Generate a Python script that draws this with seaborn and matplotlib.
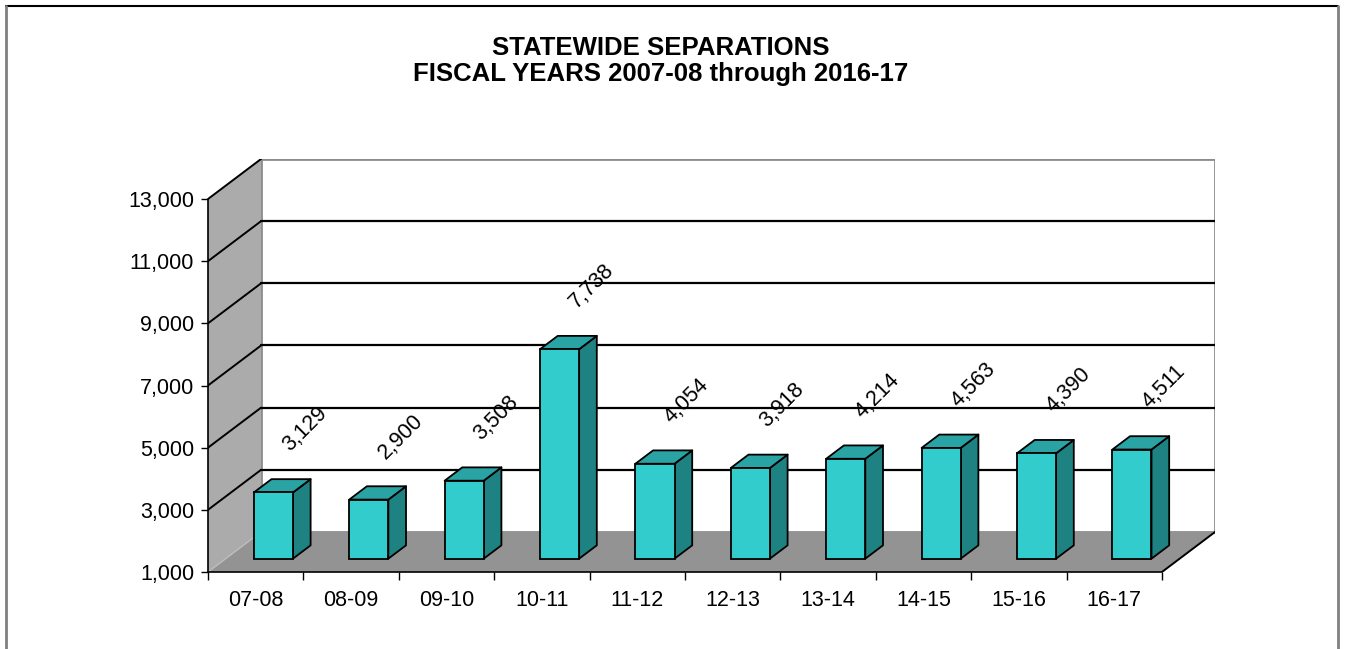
import matplotlib
matplotlib.use("Agg")
import matplotlib.pyplot as plt
from matplotlib.patches import Polygon, Rectangle
from matplotlib.lines import Line2D
import seaborn as sns
import pandas as pd

# values
years = ["07-08", "08-09", "09-10", "10-11", "11-12",
         "12-13", "13-14", "14-15", "15-16", "16-17"]
separations = [3129, 2900, 3508, 7738, 4054, 3918, 4214, 4563, 4390, 4511]
y_ticks = [1000, 3000, 5000, 7000, 9000, 11000, 13000]

df = pd.DataFrame({"Year": years, "Separations": separations})

sns.set_theme(style="white")
plt.rcParams["font.family"] = ["Liberation Sans", "DejaVu Sans"]
plt.rcParams["text.color"] = "black"
plt.rcParams["xtick.color"] = "black"
plt.rcParams["ytick.color"] = "black"

# fake 3D depth: full depth offset in data units
DX = 0.556
DY = 1287
FLOOR = y_ticks[0]
TOP = y_ticks[-1]
BAR_W = 0.41

fig = plt.figure(figsize=(13.45, 6.49), dpi=100)
ax = fig.add_axes([208 / 1345, 77 / 649, 1007 / 1345, 413 / 649])

sns.barplot(data=df, x="Year", y="Separations", color="#33CCCC", saturation=1,
            width=BAR_W, edgecolor="black", linewidth=1.3, ax=ax, zorder=3)
bars = list(ax.patches)

n = len(years)
x_left, x_right = -0.5, n - 0.5

# walls and floor
side_wall = Polygon([(x_left, FLOOR), (x_left, TOP), (x_left + DX, TOP + DY),
                     (x_left + DX, FLOOR + DY)], closed=True,
                    facecolor="#ABABAB", edgecolor="none", zorder=0)
floor = Polygon([(x_left, FLOOR), (x_right, FLOOR), (x_right + DX, FLOOR + DY),
                 (x_left + DX, FLOOR + DY)], closed=True,
                facecolor="#939393", edgecolor="none", zorder=0.2)
back_wall = Rectangle((x_left + DX, FLOOR + DY), x_right - x_left, TOP - FLOOR,
                      facecolor="white", edgecolor="#8C8C8C", linewidth=2, zorder=0)
ax.add_patch(back_wall)
ax.add_patch(side_wall)
ax.add_patch(floor)

# gridlines on back wall and side wall
for v in y_ticks[1:]:
    if v < TOP:
        ax.plot([x_left + DX, x_right + DX], [v + DY, v + DY], color="black",
                linewidth=1.6, zorder=0.5)
    ax.plot([x_left, x_left + DX], [v, v + DY], color="black",
            linewidth=1.4, zorder=0.5)
ax.plot([x_left, x_left + DX], [FLOOR, FLOOR + DY], color="#BDBDBD",
        linewidth=1, zorder=0.5)
ax.plot([x_right, x_right + DX], [FLOOR, FLOOR + DY], color="black",
        linewidth=1.4, zorder=0.5)

# turn the flat bars into boxes
for p, v in zip(bars, separations):
    x0 = p.get_x() + DX / 3
    p.set_x(x0)
    p.set_y(FLOOR + DY / 3)
    p.set_height(v - FLOOR)
    x1 = x0 + BAR_W
    top_f = v + DY / 3
    top_b = v + 2 * DY / 3
    side = Polygon([(x1, FLOOR + DY / 3), (x1, top_f), (x1 + DX / 3, top_b),
                    (x1 + DX / 3, FLOOR + 2 * DY / 3)], closed=True,
                   facecolor="#1F8282", edgecolor="black", linewidth=1.3,
                   joinstyle="round", zorder=2.9)
    lid = Polygon([(x0, top_f), (x1, top_f), (x1 + DX / 3, top_b),
                   (x0 + DX / 3, top_b)], closed=True,
                  facecolor="#29A3A3", edgecolor="black", linewidth=1.3,
                  joinstyle="round", zorder=2.9)
    ax.add_patch(side)
    ax.add_patch(lid)
    ax.annotate(f"{v:,}", xy=(x0 + BAR_W / 2, top_f), xytext=(32, 63),
                textcoords="offset pixels", rotation=45, rotation_mode="anchor",
                ha="center", va="center", fontsize=15.5, color="black")

ax.set_xlim(x_left, x_right + DX)
ax.set_ylim(FLOOR, TOP + DY)
ax.set_facecolor("none")

ax.set_yticks(y_ticks)
ax.set_yticklabels([f"{v:,}" for v in y_ticks])
ax.set_xticks(range(n))
ax.set_xticklabels(years)
ax.set_xticks([i - 0.5 for i in range(n + 1)], minor=True)
ax.tick_params(axis="x", which="major", length=0, pad=13, labelsize=15.5,
               labelcolor="black")
ax.tick_params(axis="x", which="minor", length=6, width=1, color="black",
               direction="out", bottom=True)
ax.tick_params(axis="y", length=5, width=1, color="black", direction="out",
               left=True, pad=5, labelsize=15.5, labelcolor="black")
ax.set_xlabel("")
ax.set_ylabel("")

for s in ["top", "right"]:
    ax.spines[s].set_visible(False)
ax.spines["left"].set_bounds(FLOOR, TOP)
ax.spines["bottom"].set_bounds(x_left, x_right)
ax.spines["left"].set_color("black")
ax.spines["bottom"].set_color("black")
ax.spines["left"].set_linewidth(1.2)
ax.spines["bottom"].set_linewidth(1.2)
ax.spines["left"].set_zorder(1)
ax.spines["bottom"].set_zorder(1)

fig.text(661 / 1345, 1 - 61 / 649,
         "STATEWIDE SEPARATIONS\nFISCAL YEARS 2007-08 through 2016-17",
         ha="center", va="center", fontsize=18.5, fontweight="bold",
         linespacing=1.15, color="black")

# chart border
fig.add_artist(Line2D([6 / 1345, 1338 / 1345], [1 - 6 / 649, 1 - 6 / 649],
                      transform=fig.transFigure, color="black", linewidth=1.5))
fig.add_artist(Line2D([6 / 1345, 6 / 1345], [0, 1 - 6 / 649],
                      transform=fig.transFigure, color="#808080", linewidth=2))
fig.add_artist(Line2D([1338 / 1345, 1338 / 1345], [0, 1 - 6 / 649],
                      transform=fig.transFigure, color="#808080", linewidth=2))

plt.savefig("out.png", dpi=100)
